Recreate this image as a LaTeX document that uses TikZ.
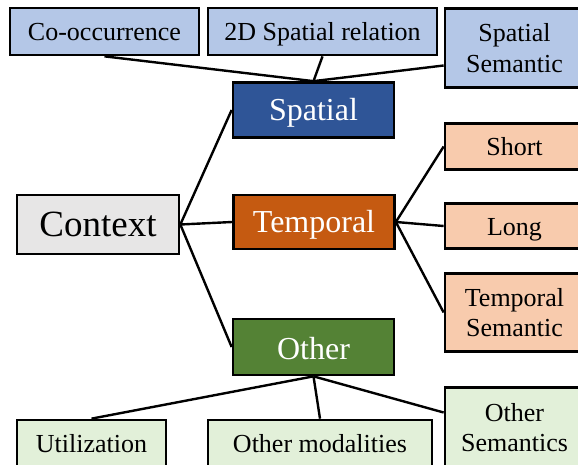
\documentclass[tikz,border=0pt]{standalone}
\usepackage{fontspec}
\setmainfont{Liberation Serif}
\usetikzlibrary{backgrounds}

\definecolor{leafblue}{HTML}{B4C7E7}
\definecolor{spablue}{HTML}{2F5597}
\definecolor{temorange}{HTML}{C55A11}
\definecolor{leaforange}{HTML}{F8CBAD}
\definecolor{othgreen}{HTML}{548235}
\definecolor{leafgreen}{HTML}{E2F0D9}
\definecolor{rootgray}{HTML}{E7E6E6}

\tikzset{
  box/.style={draw=black, line width=2.7pt, rectangle, inner sep=0pt,
    align=center, anchor=center},
  leaf/.style={box, font=\fontsize{26}{30.5}\selectfont},
  oneline/.style={leaf, text height=24pt, text depth=6pt},
  mid/.style={box, text=white, font=\fontsize{32}{36}\selectfont,
    minimum width=161pt, text depth=6pt},
  link/.style={line width=2.4pt, black},
}

\begin{document}
\begin{tikzpicture}[x=1pt, y=-1pt]
  \useasboundingbox (0,0) rectangle (578,465);
  \clip (0,0) rectangle (578,465);

  % root
  \node[box, fill=rootgray, font=\fontsize{37}{40}\selectfont,
        minimum width=162pt, minimum height=59pt] (ctx) at (98,224.5) {Context};

  % second level
  \node[mid, fill=spablue,   minimum height=55pt, text height=27.5pt] (spa) at (313.5,110) {Spatial};
  \node[mid, fill=temorange, minimum height=54pt, text height=28pt] (tem) at (314,222) {Temporal};
  \node[mid, fill=othgreen,  minimum height=56pt, text height=30pt] (oth) at (313.5,347) {Other};

  % spatial leaves
  \node[oneline, fill=leafblue, minimum width=189pt, minimum height=47pt] (cooc) at (104.5,31.5) {Co-occurrence};
  \node[oneline, fill=leafblue, minimum width=229pt, minimum height=47pt] (sprel) at (322.5,31.5) {2D Spatial relation};
  \node[leaf, fill=leafblue, minimum width=139pt, minimum height=79pt] (ssem) at (514.5,48) {Spatial\\Semantic};

  % temporal leaves
  \node[oneline, fill=leaforange, minimum width=139pt, minimum height=46pt] (short) at (514.5,146.5) {Short};
  \node[oneline, fill=leaforange, minimum width=139pt, minimum height=45pt] (long) at (514.5,226) {Long};
  \node[leaf, fill=leaforange, minimum width=139pt, minimum height=78pt] (tsem) at (514.5,312.5) {Temporal\\Semantic};

  % other leaves
  \node[oneline, fill=leafgreen, minimum width=149pt, minimum height=47pt] (util) at (91.5,443.5) {Utilization};
  \node[oneline, fill=leafgreen, minimum width=224pt, minimum height=47pt] (omod) at (320,443.5) {Other modalities};
  \node[leaf, fill=leafgreen, minimum width=139pt, minimum height=80pt] (osem) at (514.5,427.5) {Other\\Semantics};

  \begin{scope}[on background layer]
    % root to second level
    \draw[link] (ctx.east) -- (spa.west);
    \draw[link] (ctx.east) -- (tem.west);
    \draw[link] (ctx.east) -- (oth.west);
    % spatial branch
    \draw[link] (spa.north) -- (cooc.south);
    \draw[link] (spa.north) -- (sprel.south);
    \draw[link] (spa.north) -- ([yshift=-17.5pt]ssem.west);
    % temporal branch
    \draw[link] (tem.east) -- (short.west);
    \draw[link] (tem.east) -- (long.west);
    \draw[link] (tem.east) -- (tsem.west);
    % other branch
    \draw[link] (oth.south) -- (util.north);
    \draw[link] (oth.south) -- (omod.north);
    \draw[link] (oth.south) -- ([yshift=15pt]osem.west);
  \end{scope}
\end{tikzpicture}
\end{document}
